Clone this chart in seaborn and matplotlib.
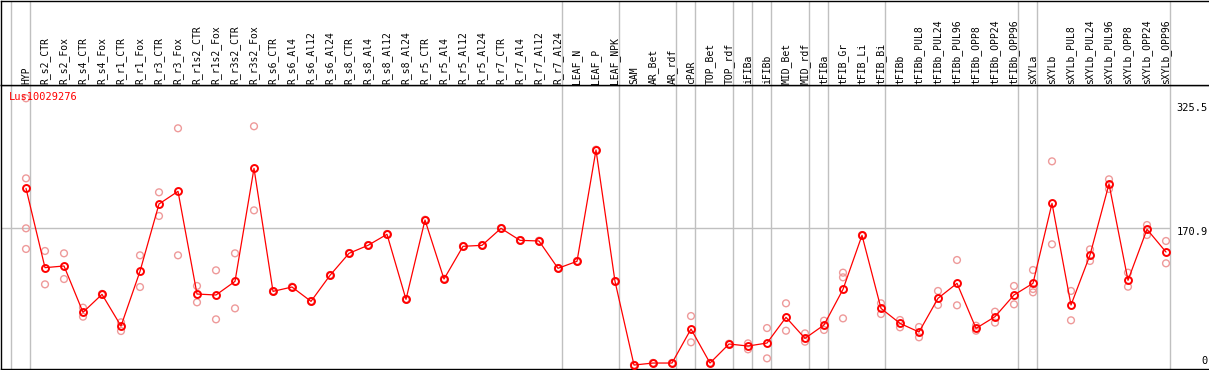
import matplotlib
matplotlib.use("Agg")
import matplotlib.pyplot as plt
import numpy as np
import pandas as pd
import seaborn as sns

# sample names, left to right
samples = [
    "HYP",
    "R_s2_CTR", "R_s2_Fox", "R_s4_CTR", "R_s4_Fox", "R_r1_CTR", "R_r1_Fox",
    "R_r3_CTR", "R_r3_Fox", "R_r1s2_CTR", "R_r1s2_Fox", "R_r3s2_CTR", "R_r3s2_Fox",
    "R_s6_CTR", "R_s6_Al4", "R_s6_Al12", "R_s6_Al24",
    "R_s8_CTR", "R_s8_Al4", "R_s8_Al12", "R_s8_Al24",
    "R_r5_CTR", "R_r5_Al4", "R_r5_Al12", "R_r5_Al24",
    "R_r7_CTR", "R_r7_Al4", "R_r7_Al12", "R_r7_Al24",
    "LEAF_N", "LEAF_P", "LEAF_NPK",
    "SAM", "AR_Bet", "AR_rdf",
    "cPAR",
    "TOP_Bet", "TOP_rdf",
    "iFIBa",
    "iFIBb",
    "MID_Bet", "MID_rdf",
    "tFIBa",
    "tFIB_Gr", "tFIB_Li", "tFIB_Bi",
    "tFIBb", "tFIBb_PUL8", "tFIBb_PUL24", "tFIBb_PUL96",
    "tFIBb_OPP8", "tFIBb_OPP24", "tFIBb_OPP96",
    "sXYLa",
    "sXYLb", "sXYLb_PUL8", "sXYLb_PUL24", "sXYLb_PUL96",
    "sXYLb_OPP8", "sXYLb_OPP24", "sXYLb_OPP96",
]

# number of samples in each tissue group (separators drawn between groups)
group_sizes = [1, 28, 3, 3, 1, 2, 1, 1, 2, 1, 3, 7, 1, 7]

gene_id = "Lus10029276"

# mean expression per sample
mean_expr = [
    220.4,
    122.0, 124.1, 66.6, 88.9, 49.6, 117.5,
    201.0, 216.7, 89.3, 88.1, 105.0, 245.2,
    92.6, 98.0, 80.2, 112.5,
    139.8, 149.7, 163.4, 82.7,
    181.1, 107.9, 148.5, 149.7,
    170.8, 155.9, 155.1, 121.2,
    129.9, 268.0, 105.0,
    1.2, 3.7, 3.7,
    45.9,
    3.7, 27.3,
    24.8,
    28.5,
    60.4, 34.3,
    50.9,
    95.1, 162.1, 71.5,
    52.9, 42.2, 84.0, 102.6,
    46.7, 61.2, 88.1,
    102.6,
    201.8, 75.7, 137.7, 225.8,
    106.3, 169.6, 141.4,
]

# individual replicates per sample
rep_expr = [
    [332.1, 232.8, 170.8, 145.2],
    [142.7, 101.3], [139.8, 107.9], [72.4, 61.2], [89.5, 88.3], [54.2, 43.4], [137.3, 98.0],
    [215.5, 186.1], [294.9, 137.3], [99.3, 79.0], [118.7, 57.9], [139.8, 71.5], [297.4, 193.1],
    [93.0, 92.2], [98.4, 97.6], [80.6, 79.8], [112.9, 112.1],
    [140.2, 139.4], [150.1, 149.3], [163.8, 163.0], [83.1, 82.3],
    [181.5, 180.7], [108.3, 107.5], [148.9, 148.1], [150.1, 149.3],
    [171.2, 170.4], [156.3, 155.5], [155.5, 154.7], [121.6, 120.8],
    [130.3, 129.5], [268.4, 267.6], [105.4, 104.6],
    [1.4, 1.0], [3.9, 3.5], [3.9, 3.5],
    [62.0, 29.4],
    [3.9, 3.5], [27.7, 26.9],
    [28.1, 20.7],
    [47.1, 9.5],
    [77.8, 43.8], [40.5, 30.2],
    [56.2, 44.7],
    [115.8, 110.0, 59.1], [162.5, 161.7], [77.8, 64.5],
    [57.1, 48.0], [48.4, 35.6], [93.1, 75.7], [131.5, 75.3],
    [50.0, 43.8], [67.4, 53.8], [99.3, 76.5],
    [119.1, 95.5, 91.4],
    [253.9, 151.0], [93.1, 56.7], [144.7, 130.3], [231.6, 219.6],
    [115.8, 98.4], [174.9, 162.5], [155.1, 127.4],
]

y_ticks = [0, 170.9, 325.5]

LINE_RED = "#ff0000"
REP_PINK = "#ee9a9a"
GRID_GRAY = "#c0c0c0"

W, H = 1209, 370

sns.set_style("white")
plt.rcParams["font.family"] = ["DejaVu Sans Mono", "DejaVu Sans"]

pos = np.arange(len(samples))
mean_df = pd.DataFrame({"pos": pos, "sample": samples, "value": mean_expr})
rep_df = pd.DataFrame(
    [(i, v) for i, reps in enumerate(rep_expr) for v in reps],
    columns=["pos", "value"],
)

# pixel layout of the original: sample i sits at x = 26 + 19 i
x_left = (1 - 26) / 19
x_right = (W - 26) / 19
y_low, y_high = -3.7, 348.6

fig = plt.figure(figsize=(W / 100, H / 100), dpi=100)
ax = fig.add_axes([1 / W, 1 - 369 / H, (W - 1) / W, 284 / H])
lab_ax = fig.add_axes([1 / W, 1 - 85 / H, (W - 1) / W, 84.5 / H])

for a in (ax, lab_ax):
    a.set_xlim(x_left, x_right)
    a.set_xticks([])
    a.set_yticks([])
    for side in ("left", "top", "bottom"):
        a.spines[side].set_color("black")
        a.spines[side].set_linewidth(1.0)
    a.spines["right"].set_visible(False)

lab_ax.set_ylim(0, 1)
ax.set_ylim(y_low, y_high)

# group separators
bounds = np.concatenate([[-1], np.cumsum(group_sizes) - 1]) + 0.22
for b in bounds:
    ax.axvline(b, color=GRID_GRAY, lw=1.0, zorder=0)
    lab_ax.axvline(b, color=GRID_GRAY, lw=1.0, zorder=0)

ax.hlines(170.9, x_left, bounds[-1], color=GRID_GRAY, lw=1.0, zorder=0)

sns.scatterplot(
    data=rep_df, x="pos", y="value", ax=ax,
    marker="o", s=24, facecolor="none", edgecolor=REP_PINK, linewidth=1.0,
    zorder=2, legend=False,
)
sns.lineplot(
    data=mean_df, x="pos", y="value", ax=ax,
    color=LINE_RED, lw=0.9, marker="o", markersize=5,
    markerfacecolor="none", markeredgecolor=LINE_RED, markeredgewidth=1.4,
    zorder=3, legend=False,
)
ax.set_xlabel("")
ax.set_ylabel("")

for i, name in enumerate(samples):
    lab_ax.text(i, 0.012, name, rotation=90, ha="center", va="bottom",
                fontsize=7, color="black")

# value labels on the right side
for v in y_ticks:
    ty = max(v - 5, 6)
    ax.text(x_right - 0.05, ty, f"{v:g}", ha="right", va="center",
            fontsize=7.5, color="black")

ax.text(8 / (W - 1), 1 - 12.5 / 284, gene_id, transform=ax.transAxes,
        ha="left", va="center", fontsize=7.5, color=LINE_RED)

fig.savefig("out.png", dpi=100)
